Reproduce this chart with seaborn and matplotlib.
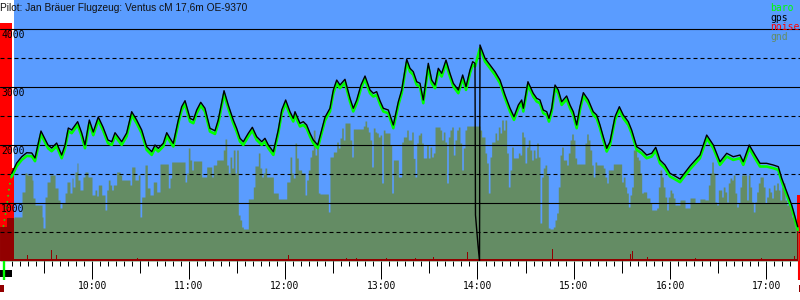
import numpy as np
import pandas as pd
import matplotlib
matplotlib.use("Agg")
import matplotlib.pyplot as plt
import seaborn as sns
from matplotlib.ticker import MultipleLocator, FuncFormatter
from matplotlib.patches import Rectangle
from matplotlib.transforms import blended_transform_factory

# ---------------- data (time in decimal hours, altitude in m) ----------------
title = "Pilot: Jan Bräuer Flugzeug: Ventus cM 17,6m OE-9370"
legend_labels = ["baro", "gps", "noise", "gnd"]

gps_time = [9.163, 9.215, 9.267, 9.319, 9.371, 9.405, 9.467, 9.540, 9.578, 9.630,
            9.682, 9.717, 9.751, 9.786, 9.848, 9.890, 9.924, 9.969, 10.010, 10.062,
            10.111, 10.163, 10.202, 10.236, 10.267, 10.305, 10.357, 10.409, 10.461, 10.513,
            10.565, 10.617, 10.651, 10.685, 10.737, 10.773, 10.807, 10.841, 10.893, 10.928,
            10.963, 11.015, 11.049, 11.084, 11.126, 11.170, 11.222, 11.274, 11.308, 11.368,
            11.412, 11.464, 11.499, 11.534, 11.568, 11.620, 11.662, 11.707, 11.759, 11.793,
            11.828, 11.880, 11.931, 11.967, 12.008, 12.053, 12.087, 12.105, 12.157, 12.191,
            12.226, 12.261, 12.295, 12.341, 12.382, 12.416, 12.468, 12.503, 12.538, 12.572,
            12.624, 12.676, 12.710, 12.746, 12.790, 12.832, 12.884, 12.918, 12.953, 12.988,
            13.022, 13.074, 13.126, 13.178, 13.213, 13.265, 13.299, 13.333, 13.369, 13.403,
            13.437, 13.472, 13.489, 13.524, 13.559, 13.593, 13.628, 13.673, 13.714, 13.749,
            13.801, 13.846, 13.881, 13.922, 13.950, 13.974, 13.979, 14.005, 14.021, 14.026,
            14.078, 14.130, 14.182, 14.234, 14.286, 14.338, 14.379, 14.424, 14.459, 14.476,
            14.524, 14.579, 14.615, 14.649, 14.683, 14.719, 14.742, 14.771, 14.805, 14.839,
            14.874, 14.926, 14.961, 14.995, 15.030, 15.064, 15.099, 15.151, 15.202, 15.238,
            15.272, 15.306, 15.342, 15.376, 15.428, 15.473, 15.514, 15.566, 15.601, 15.653,
            15.705, 15.757, 15.809, 15.851, 15.895, 15.947, 15.999, 16.051, 16.103, 16.207,
            16.310, 16.380, 16.449, 16.518, 16.588, 16.656, 16.726, 16.760, 16.822, 16.882,
            16.934, 17.003, 17.072, 17.124, 17.159, 17.211, 17.263, 17.297, 17.325]

gps_alt = [1512, 1690, 1798, 1867, 1862, 1776, 2241, 2000, 1948, 2034,
           1827, 2000, 2293, 2259, 2402, 2207, 2000, 2431, 2224, 2483,
           2310, 2086, 2057, 2212, 2143, 2057, 2207, 2574, 2431, 2258,
           1971, 1884, 2000, 1943, 2029, 2212, 2115, 2029, 2431, 2660,
           2764, 2460, 2431, 2603, 2736, 2633, 2288, 2246, 2431, 2936,
           2689, 2431, 2288, 2115, 2057, 2202, 2305, 2143, 2057, 2115,
           2000, 1884, 2258, 2603, 2776, 2574, 2460, 2574, 2374, 2402,
           2345, 2202, 2086, 2000, 2258, 2477, 2633, 2948, 3120, 3034,
           3133, 2805, 2633, 2776, 3034, 3189, 2948, 2891, 2919, 2760,
           2633, 2603, 2345, 2746, 2948, 3477, 3322, 3264, 3091, 3064,
           2776, 3207, 3408, 3120, 3034, 3322, 3236, 3465, 3236, 3064,
           2948, 3207, 3005, 3293, 3436, 3408, 793, 276, 0, 3724,
           3495, 3379, 3264, 3120, 2862, 2633, 2488, 2689, 2776, 2633,
           3091, 2891, 2805, 2776, 2603, 2574, 2460, 2633, 3034, 2948,
           2746, 2845, 2689, 2574, 2345, 2660, 2902, 2776, 2574, 2517,
           2345, 2143, 1943, 2057, 2488, 2660, 2517, 2402, 2258, 1971,
           1914, 1827, 1857, 1960, 1741, 1655, 1512, 1465, 1414, 1638,
           1827, 2172, 2000, 1712, 1857, 1798, 1827, 1712, 2000, 1827,
           1684, 1684, 1655, 1626, 1426, 1195, 965, 764, 591]

# baro shares the gps time stamps (no value where gps glitches)
baro_alt = [1457, 1635, 1743, 1812, 1807, 1721, 2186, 1945, 1893, 1979,
            1772, 1945, 2238, 2204, 2347, 2152, 1945, 2376, 2169, 2428,
            2255, 2031, 2002, 2157, 2088, 2002, 2152, 2519, 2376, 2203,
            1916, 1829, 1945, 1888, 1974, 2157, 2060, 1974, 2376, 2605,
            2709, 2405, 2376, 2548, 2681, 2578, 2233, 2191, 2376, 2881,
            2634, 2376, 2233, 2060, 2002, 2147, 2250, 2088, 2002, 2060,
            1945, 1829, 2203, 2548, 2721, 2519, 2405, 2519, 2319, 2347,
            2290, 2147, 2031, 1945, 2203, 2422, 2578, 2893, 3065, 2979,
            3078, 2750, 2578, 2721, 2979, 3134, 2893, 2836, 2864, 2705,
            2578, 2548, 2290, 2691, 2893, 3422, 3267, 3209, 3036, 3009,
            2721, 3152, 3353, 3065, 2979, 3267, 3181, 3410, 3181, 3009,
            2893, 3152, 2950, 3238, 3381, 3353, None, None, None, 3669,
            3440, 3324, 3209, 3065, 2807, 2578, 2433, 2634, 2721, 2578,
            3036, 2836, 2750, 2721, 2548, 2519, 2405, 2578, 2979, 2893,
            2691, 2790, 2634, 2519, 2290, 2605, 2847, 2721, 2519, 2462,
            2290, 2088, 1888, 2002, 2433, 2605, 2462, 2347, 2203, 1916,
            1859, 1772, 1802, 1905, 1686, 1600, 1457, 1410, 1359, 1583,
            1772, 2117, 1945, 1657, 1802, 1743, 1772, 1657, 1945, 1772,
            1629, 1629, 1600, 1571, 1371, 1140, 910, 709, 536]

# engine climb right after launch (baro only, sparse fixes)
climb_time = [9.076, 9.111, 9.138, 9.163]
climb_alt = [591, 936, 1281, 1483]

gnd_time = [9.042, 9.114, 9.187, 9.270, 9.301, 9.322, 9.374, 9.384, 9.405, 9.478,
            9.488, 9.509, 9.530, 9.561, 9.613, 9.644, 9.665, 9.685, 9.717, 9.737,
            9.768, 9.789, 9.800, 9.820, 9.841, 9.851, 9.872, 9.903, 9.924, 9.955,
            9.997, 10.028, 10.046, 10.062, 10.098, 10.132, 10.150, 10.166, 10.184, 10.201,
            10.218, 10.253, 10.288, 10.305, 10.391, 10.409, 10.443, 10.478, 10.495, 10.513,
            10.547, 10.571, 10.599, 10.633, 10.669, 10.703, 10.789, 10.807, 10.824, 10.963,
            10.980, 10.997, 11.014, 11.032, 11.049, 11.136, 11.188, 11.240, 11.256, 11.292,
            11.360, 11.378, 11.396, 11.412, 11.430, 11.448, 11.464, 11.482, 11.499, 11.516,
            11.534, 11.551, 11.568, 11.620, 11.672, 11.689, 11.724, 11.741, 11.759, 11.776,
            11.793, 11.811, 11.880, 11.931, 12.019, 12.053, 12.071, 12.087, 12.105, 12.122,
            12.139, 12.174, 12.209, 12.226, 12.243, 12.261, 12.278, 12.295, 12.313, 12.330,
            12.347, 12.364, 12.451, 12.468, 12.503, 12.538, 12.555, 12.572, 12.590, 12.606,
            12.624, 12.676, 12.694, 12.710, 12.814, 12.832, 12.849, 12.866, 12.884, 12.901,
            12.918, 12.936, 12.953, 12.970, 12.988, 13.005, 13.022, 13.039, 13.091, 13.109,
            13.126, 13.178, 13.213, 13.230, 13.265, 13.281, 13.317, 13.333, 13.351, 13.369,
            13.385, 13.403, 13.420, 13.437, 13.472, 13.489, 13.507, 13.524, 13.541, 13.559,
            13.611, 13.628, 13.645, 13.662, 13.680, 13.697, 13.714, 13.732, 13.749, 13.766,
            13.784, 13.801, 13.818, 13.836, 13.853, 13.870, 13.888, 14.026, 14.043, 14.078,
            14.095, 14.112, 14.130, 14.147, 14.182, 14.199, 14.216, 14.234, 14.251, 14.268,
            14.286, 14.303, 14.320, 14.338, 14.355, 14.372, 14.424, 14.441, 14.459, 14.476,
            14.493, 14.511, 14.527, 14.545, 14.563, 14.579, 14.597, 14.615, 14.631, 14.649,
            14.667, 14.683, 14.701, 14.719, 14.735, 14.753, 14.787, 14.805, 14.822, 14.839,
            14.857, 14.874, 14.891, 14.926, 14.943, 14.961, 14.978, 14.995, 15.012, 15.030,
            15.116, 15.134, 15.150, 15.168, 15.186, 15.202, 15.220, 15.238, 15.306, 15.324,
            15.342, 15.358, 15.410, 15.497, 15.514, 15.532, 15.549, 15.566, 15.584, 15.601,
            15.618, 15.653, 15.670, 15.688, 15.705, 15.722, 15.757, 15.791, 15.809, 15.861,
            15.878, 15.895, 15.913, 15.929, 15.947, 15.965, 15.981, 15.999, 16.017, 16.033,
            16.051, 16.103, 16.155, 16.207, 16.259, 16.310, 16.362, 16.397, 16.414, 16.432,
            16.449, 16.466, 16.484, 16.501, 16.536, 16.552, 16.570, 16.588, 16.604, 16.622,
            16.640, 16.656, 16.674, 16.692, 16.708, 16.726, 16.743, 16.795, 16.812, 16.830,
            16.847, 16.864, 16.882, 16.899, 16.916, 16.934, 16.968, 16.986, 17.003, 17.020,
            17.037, 17.055, 17.072, 17.089, 17.107, 17.124, 17.141, 17.159, 17.175, 17.193,
            17.211, 17.227, 17.245, 17.263, 17.279, 17.297, 17.328]

gnd_alt = [586, 741, 759, 1190, 1517, 1483, 1396, 1086, 965, 759,
           569, 1103, 1362, 1483, 1259, 1052, 914, 1000, 1172, 1362,
           1172, 1431, 1276, 1534, 1690, 1396, 1224, 1448, 1534, 1448,
           1138, 1224, 1121, 1310, 1138, 879, 1224, 1396, 1310, 1224,
           1310, 1534, 1483, 1396, 1310, 1621, 1396, 1483, 759, 1103,
           1655, 1259, 1138, 1362, 1190, 1672, 1259, 1431, 1707, 1362,
           1517, 1948, 1741, 1569, 1724, 1448, 1621, 1448, 1655, 1741,
           1914, 2103, 1655, 1517, 1793, 1603, 1914, 1517, 1914, 793,
           707, 586, 552, 1069, 1276, 1638, 1862, 1603, 1448, 1517,
           1603, 1448, 1172, 1069, 1362, 1793, 1517, 1431, 2034, 1776,
           1569, 1517, 1138, 1396, 1569, 1793, 1914, 2258, 1827, 2000,
           1172, 1155, 845, 1793, 1879, 2051, 1948, 2120, 2293, 2086,
           2379, 2086, 1793, 2276, 2327, 2414, 2310, 2224, 2086, 1621,
           2293, 2224, 2207, 2138, 2172, 1345, 2258, 2207, 2000, 1172,
           1741, 1448, 2051, 2138, 2258, 2086, 2224, 1770, 1448, 2034,
           2172, 2207, 2034, 1776, 2000, 1776, 1965, 1793, 1862, 2310,
           2258, 2086, 2224, 2051, 1345, 2138, 2258, 2310, 1827, 2086,
           2258, 2310, 2034, 1569, 1948, 2258, 2327, 2258, 2138, 1862,
           1690, 1172, 1793, 2051, 2207, 2086, 2310, 2207, 2431, 2258,
           2431, 1862, 1276, 1569, 1965, 1776, 1862, 1827, 2224, 2138,
           1690, 1965, 2086, 1914, 1741, 1914, 1776, 2034, 1793, 655,
           1448, 1603, 1655, 1483, 569, 552, 586, 707, 828, 1276,
           1827, 1965, 1741, 1655, 1862, 2086, 2190, 2086, 1776, 1672,
           2034, 2190, 2086, 1914, 1655, 1448, 1707, 1655, 1603, 1448,
           1345, 1569, 1672, 1362, 1448, 1276, 1172, 931, 1138, 1276,
           1914, 1793, 1741, 1517, 1172, 1190, 1086, 1000, 879, 914,
           1276, 1569, 1448, 1276, 1103, 879, 1103, 1224, 1172, 1086,
           965, 1052, 914, 1086, 1000, 1069, 1052, 1310, 1517, 1707,
           1517, 1017, 965, 1224, 1103, 1276, 1190, 1017, 1345, 1431,
           1396, 1483, 1172, 931, 1000, 1276, 1483, 1052, 1483, 1276,
           1017, 845, 1017, 1190, 1345, 1448, 1276, 1000, 1103, 1259,
           1190, 1086, 1310, 1224, 1345, 1224, 1052, 1276, 1345, 1052,
           965, 1000, 931, 759, 741, 586, 586]

noise_time = [9.042, 9.163, 9.187, 9.322, 9.332, 9.571, 9.581, 9.623, 9.633, 10.464,
              10.474, 12.032, 12.042, 12.634, 12.644, 12.738, 12.748, 13.050, 13.060, 13.351,
              13.361, 13.538, 13.548, 13.894, 13.904, 14.777, 14.787, 15.288, 15.298, 15.587,
              15.597, 15.607, 15.617, 15.763, 15.773, 16.259, 16.269, 16.944, 16.954, 17.141,
              17.151, 17.286, 17.296, 17.318, 17.349]
noise_val = [4100, 1600, 30, 103, 30, 190, 30, 103, 30, 52,
             30, 103, 30, 52, 30, 52, 30, 52, 30, 52,
             30, 69, 30, 155, 30, 207, 30, 103, 30, 121,
             30, 172, 30, 69, 30, 52, 30, 52, 30, 40,
             30, 86, 30, 1140, 1140]

flight_start = 9.190          # blue background from launch on
engine_run = (9.042, 9.166)   # black bar under the axis
launch_mark = 9.078
landing_mark = 17.338

# ---------------- style ----------------
BLUE = "#5a9cff"
OLIVE = "#648c64"
GREEN = "#00ff00"
RED = "#ff0000"
DARKRED = "#920000"
MONO = "DejaVu Sans Mono"

sns.set_style("white")
plt.rcParams["font.family"] = ["Liberation Sans", "DejaVu Sans"]

W, H = 800, 300
AX_H = 261
fig = plt.figure(figsize=(8, 3), dpi=100)
fig.patch.set_facecolor("white")
ax = fig.add_axes([0, (H - AX_H) / H, 1, AX_H / H])
x0, x1 = 9.0415, 17.349
ax.set_xlim(x0, x1)
ax.set_ylim(0, 4500)
ax.set_facecolor("white")
for s in ax.spines.values():
    s.set_visible(False)

ax.axvspan(flight_start, x1, color=BLUE, lw=0, zorder=0)

# noise (red), ground (olive), noise under ground (dark red)
ax.fill_between(noise_time, 0, noise_val, step="post", color=RED, lw=0, zorder=1)
gpoly = ax.fill_between(gnd_time, 0, gnd_alt, step="post", color=OLIVE, lw=0, zorder=2)
dark = ax.fill_between(noise_time, 0, noise_val, step="post", color=DARKRED, lw=0, zorder=2.5)
dark.set_clip_path(gpoly.get_paths()[0], ax.transData)

# grid
for v in [1000, 2000, 3000, 4000]:
    ax.axhline(v, color="black", lw=0.8, zorder=3)
for v in [500, 1500, 2500, 3500]:
    ax.axhline(v, color="black", lw=0.8, ls=(0, (3.6, 2.7)), zorder=3)

# traces
gps_df = pd.DataFrame({"t": gps_time, "alt": gps_alt})
baro_df = pd.DataFrame({"t": gps_time, "alt": baro_alt}).dropna()
climb_df = pd.DataFrame({"t": climb_time, "alt": climb_alt})
sns.lineplot(data=climb_df, x="t", y="alt", ax=ax, color=GREEN, lw=1.1,
             ls=(0, (1, 3)), estimator=None, sort=False, zorder=4)
sns.lineplot(data=baro_df, x="t", y="alt", ax=ax, color=GREEN, lw=1.9,
             estimator=None, sort=False, zorder=4)
sns.lineplot(data=gps_df, x="t", y="alt", ax=ax, color="black", lw=1.0,
             estimator=None, sort=False, zorder=5)
ax.set_xlim(x0, x1)
ax.set_ylim(0, 4500)
ax.set_xlabel("")
ax.set_ylabel("")

# y labels inside plot
ytr = blended_transform_factory(ax.transAxes, ax.transData)
for v in [1000, 2000, 3000, 4000]:
    ax.text(0.0015, v - 25, str(v), transform=ytr, ha="left", va="top",
            fontsize=7, family=MONO, color="black", zorder=7)
ax.set_yticks([])

# x axis ticks
ax.xaxis.set_major_locator(MultipleLocator(1))
ax.xaxis.set_minor_locator(MultipleLocator(5 / 60))
ax.xaxis.set_major_formatter(FuncFormatter(lambda h, p: f"{int(round(h)):d}:00"))
ax.tick_params(axis="x", which="major", length=12.96, width=0.72, direction="out",
               pad=1.2, labelsize=7, colors="black", bottom=True)
ax.tick_params(axis="x", which="minor", length=3.6, width=0.72, direction="out",
               colors="black", bottom=True)
for lab in ax.get_xticklabels():
    lab.set_family(MONO)
xtr = ax.get_xaxis_transform()
halfs = np.arange(9.5, 17.5, 1.0)
ax.vlines(halfs, -12 / AX_H, 0, transform=xtr, color="black", lw=0.72, clip_on=False)

# markers under the axis
ax.add_patch(Rectangle((engine_run[0], -16 / AX_H), engine_run[1] - engine_run[0], 7 / AX_H,
                       transform=xtr, color="black", lw=0, clip_on=False))
ax.vlines([launch_mark], -19 / AX_H, 0, transform=xtr, color=GREEN, lw=1.7, clip_on=False)
ax.add_patch(Rectangle((x0, -31 / AX_H), 0.0415, 7 / AX_H, transform=xtr,
                       color=DARKRED, lw=0, clip_on=False))
ax.vlines([landing_mark], -19 / AX_H, 0, transform=xtr, color=RED, lw=1.5, clip_on=False)
ax.add_patch(Rectangle((landing_mark - 0.004, -31 / AX_H), 0.02, 7 / AX_H, transform=xtr,
                       color=DARKRED, lw=0, clip_on=False))

# title and legend
fig.text(0.0, 1 - 8 / H, title, ha="left", va="center", fontsize=7.3,
         family=["Liberation Sans", "DejaVu Sans"], color="#111111", zorder=10)
leg_colors = [GREEN, "black", RED, OLIVE]
for i, (lab, c) in enumerate(zip(legend_labels, leg_colors)):
    fig.text(770 / W, 1 - (8 + 9.7 * i) / H, lab, ha="left", va="center",
             fontsize=7, family=MONO, color=c, zorder=10)

fig.savefig("out.png", dpi=100, facecolor="white")
